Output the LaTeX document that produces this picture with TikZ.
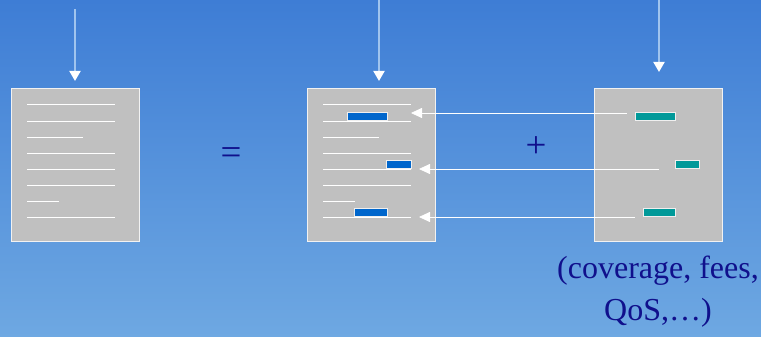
\documentclass[tikz,border=0pt]{standalone}
\usepackage{fontspec}
\setmainfont{Liberation Serif}
\usetikzlibrary{arrows.meta}

\definecolor{skytop}{RGB}{62,125,213}
\definecolor{skybottom}{RGB}{110,168,226}
\definecolor{pagegray}{RGB}{192,192,192}
\definecolor{markblue}{RGB}{0,102,204}
\definecolor{markteal}{RGB}{0,153,153}
\definecolor{ink}{RGB}{16,16,140}
\definecolor{shaft}{RGB}{160,196,238}

\tikzset{
  docbox/.style={draw=white!80!pagegray, fill=pagegray, line width=1pt,
    minimum width=128pt, minimum height=152pt, inner sep=0pt},
  textline/.style={draw=white, line width=1pt},
  bar/.style={draw=white!75!pagegray, line width=0.8pt, inner sep=0pt,
    minimum height=8pt, anchor=south west},
  feed/.style={draw=shaft, line width=2pt,
    -{Triangle[width=11pt,length=10pt,color=white]}},
  pull/.style={draw=white, line width=0.8pt,
    -{Triangle[width=10pt,length=11pt]}},
  sign/.style={text=ink, font=\fontsize{37}{37}\selectfont},
  caption/.style={text=ink, align=center, font=\fontsize{32}{42}\selectfont}
}

\begin{document}
\begin{tikzpicture}[x=1pt,y=-1pt]
\useasboundingbox (0,0) rectangle (761,337);
\shade[top color=skytop, bottom color=skybottom] (0,0) rectangle (761,337);

% the three pages
\node[docbox] (page) at (75,165) {};
\node[docbox] (merged) at (371,165) {};
\node[docbox] (extra) at (658.5,165) {};

% text lines
\foreach \y/\e in {105/115,121/115,137/83,153/115,169/115,185/115,201/59,217/115}
\draw[textline] (27,\y) -- (\e,\y);
\foreach \y/\e in {105/411,121/411,137/379,153/411,169/411,185/411,201/355,217/411}
\draw[textline] (323,\y) -- (\e,\y);

% marked pieces
\node[bar, fill=markblue, minimum width=40pt] (blue1) at (347,121) {};
\node[bar, fill=markblue, minimum width=25pt] (blue2) at (386,169) {};
\node[bar, fill=markblue, minimum width=33pt] (blue3) at (354,217) {};
\node[bar, fill=markteal, minimum width=40pt] (teal1) at (635,121) {};
\node[bar, fill=markteal, minimum width=24pt] (teal2) at (675,169) {};
\node[bar, fill=markteal, minimum width=32pt] (teal3) at (643,217) {};

% incoming arrows
\coordinate (in1) at (75,9);
\coordinate (tip1) at (75,81);
\coordinate (in2) at (379,0);
\coordinate (tip2) at (379,81);
\coordinate (in3) at (659,0);
\coordinate (tip3) at (659,72);
\draw[feed] (in1) -- (tip1);
\draw[feed] (in2) -- (tip2);
\draw[feed] (in3) -- (tip3);

% pieces pulled into the middle page
\coordinate (from1) at (627,113);
\coordinate (to1) at (411,113);
\coordinate (from2) at (659,169);
\coordinate (to2) at (419,169);
\coordinate (from3) at (635,217);
\coordinate (to3) at (419,217);
\draw[pull] (from1) -- (to1);
\draw[pull] (from2) -- (to2);
\draw[pull] (from3) -- (to3);

\node[sign] (equals) at (231,156) {=};
\node[sign] (plus) at (536,147) {+};
\node[caption] (note) at (658,292) {(coverage, fees,\\QoS,…)};
\end{tikzpicture}
\end{document}
